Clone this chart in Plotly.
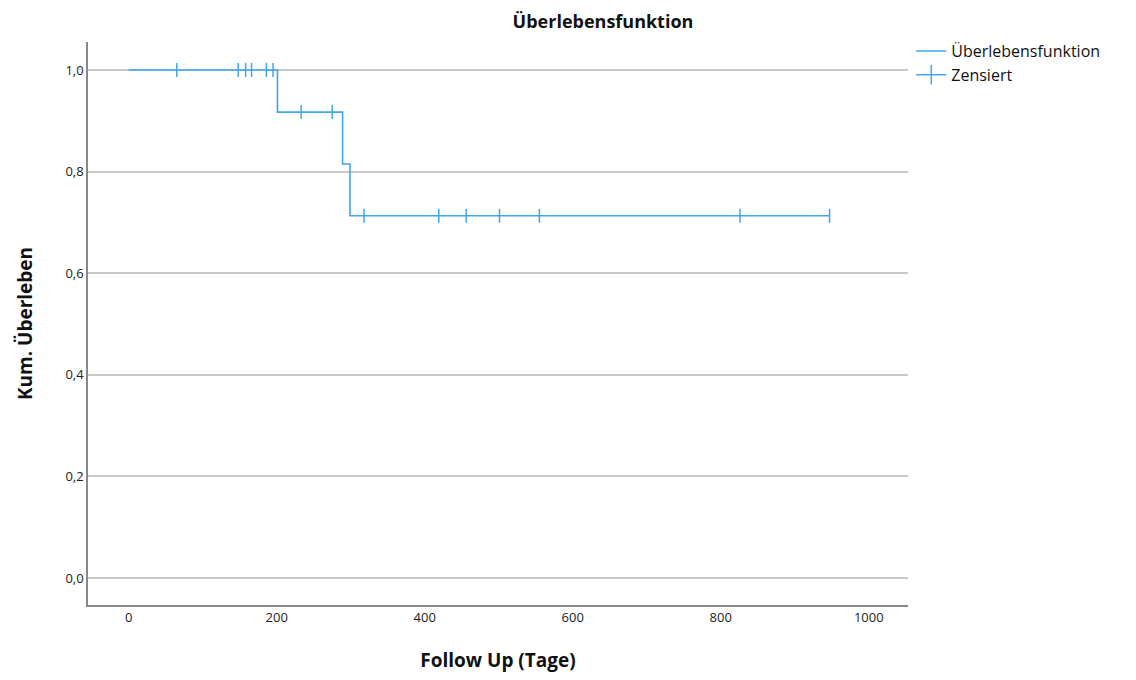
import plotly.graph_objects as go

# Step function (Kaplan-Meier)
step_times = [0, 201, 289, 299, 947]
step_surv = [1.0, 0.917, 0.815, 0.713, 0.713]

# Censored observations
cens_times = [65, 148, 158, 166, 186, 195, 233, 275, 318, 419, 456, 501, 555, 826, 947]
cens_surv = [1.0, 1.0, 1.0, 1.0, 1.0, 1.0, 0.917, 0.917, 0.713, 0.713, 0.713, 0.713, 0.713, 0.713, 0.713]

x_ticks = [0, 200, 400, 600, 800, 1000]
y_ticks = [0.0, 0.2, 0.4, 0.6, 0.8, 1.0]
y_tick_labels = ["0,0", "0,2", "0,4", "0,6", "0,8", "1,0"]

COLOR = "#41A5EE"
FONT = "Open Sans"

fig = go.Figure()
fig.add_trace(go.Scatter(
    x=step_times, y=step_surv, mode="lines",
    line=dict(color=COLOR, width=1.6, shape="hv"),
    name="Überlebensfunktion", showlegend=True,
))
fig.add_trace(go.Scatter(
    x=cens_times, y=cens_surv, mode="markers",
    marker=dict(symbol="line-ns-open", size=10, color=COLOR, line=dict(color=COLOR, width=1.5)),
    name="Zensiert", showlegend=False,
))
fig.add_trace(go.Scatter(
    x=[None], y=[None], mode="lines+markers",
    line=dict(color=COLOR, width=1.6),
    marker=dict(symbol="line-ns-open", size=14, color=COLOR, line=dict(color=COLOR, width=1.5)),
    name="Zensiert", showlegend=True,
))

fig.update_layout(
    width=1136, height=680,
    margin=dict(l=88, r=228, t=42, b=73),
    paper_bgcolor="white", plot_bgcolor="white",
    font=dict(family=FONT, color="#222222", size=13),
    title=dict(text="<b>Überlebensfunktion</b>", x=603 / 1136, xanchor="center",
               y=1 - 22 / 680, yanchor="middle", font=dict(size=18, family=FONT, color="#111111")),
    legend=dict(x=1.004, xanchor="left", y=1.0 + 8 / 565, yanchor="top",
                font=dict(size=16, family=FONT, color="#111111"),
                bgcolor="rgba(0,0,0,0)", tracegroupgap=0, itemwidth=30),
    xaxis=dict(range=[-55, 1053], tickvals=x_ticks, ticktext=[str(v) for v in x_ticks],
               showgrid=False, zeroline=False, showline=True, linecolor="#888888", linewidth=1.5,
               ticks="", tickfont=dict(size=13, family=FONT, color="#222222"),
               title=dict(text="<b>Follow Up (Tage)</b>", font=dict(size=19, family=FONT, color="#111111"),
                          standoff=28)),
    yaxis=dict(range=[-0.053, 1.055], tickvals=y_ticks, ticktext=y_tick_labels,
               showgrid=True, gridcolor="#C8C8C8", gridwidth=1.5, zeroline=False,
               showline=True, linecolor="#888888", linewidth=1.5,
               ticks="", tickfont=dict(size=13, family=FONT, color="#222222"),
               title=dict(text="<b>Kum. Überleben</b>", font=dict(size=19, family=FONT, color="#111111"),
                          standoff=28)),
)

fig.write_html("out.html")
